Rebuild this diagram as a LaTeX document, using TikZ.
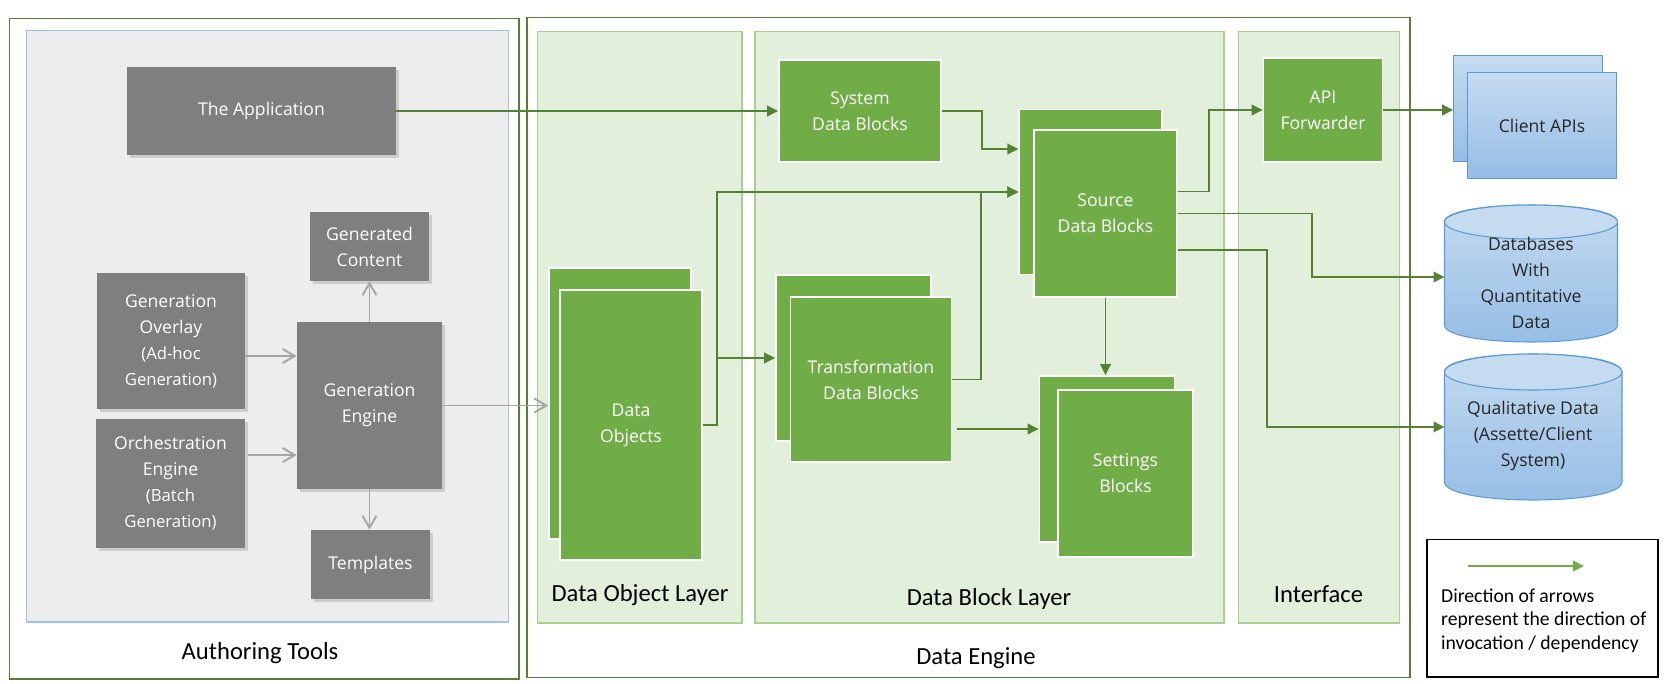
\documentclass[tikz,border=0pt]{standalone}
\usepackage{fontspec}
\setmainfont{Carlito}
\newfontfamily\boxfont{Open Sans}
\usepackage{xcolor}
\usetikzlibrary{arrows.meta,positioning,shapes.geometric,shadows,calc}

\definecolor{leaf}{HTML}{70AD47}
\definecolor{darkleaf}{HTML}{548235}
\definecolor{panelfill}{HTML}{E2EFDA}
\definecolor{panelline}{HTML}{A9D18E}
\definecolor{slate}{HTML}{7F7F7F}
\definecolor{ashbg}{HTML}{EDEDED}
\definecolor{ashline}{HTML}{9DC3E6}
\definecolor{skyline}{HTML}{5B9BD5}
\definecolor{skylight}{HTML}{C5DBF0}
\definecolor{skymid}{HTML}{95BDE5}
\definecolor{arrowgrey}{HTML}{A6A6A6}

\begin{document}
\begin{tikzpicture}[
    x=1cm, y=1cm,
    greybox/.style={fill=slate, text=white, align=center, inner sep=2pt,
      font=\boxfont\fontsize{10}{14.8}\selectfont,
      drop shadow={shadow xshift=0.05cm, shadow yshift=-0.05cm, opacity=0.3}},
    greenbox/.style={fill=leaf, draw=white, line width=0.9pt, text=white, align=center,
      inner sep=2pt, font=\boxfont\fontsize{10}{14.8}\selectfont},
    skybox/.style={top color=skylight, bottom color=skymid, draw=skyline, line width=0.6pt,
      text=black!85, align=center, font=\boxfont\fontsize{10}{14.8}\selectfont},
    cylbody/.style={top color=skylight, bottom color=skymid, draw=skyline, line width=0.6pt},
    cyltop/.style={ellipse, fill=skylight, draw=skyline, line width=0.6pt, inner sep=0pt},
    cyltext/.style={text=black!85, align=center, font=\boxfont\fontsize{10}{14.8}\selectfont},
    panel/.style={fill=panelfill, draw=panelline, line width=0.7pt},
    frame/.style={draw=darkleaf, line width=1.1pt},
    layerlabel/.style={font=\fontsize{14}{16}\selectfont, text=black},
    flow/.style={draw=darkleaf, line width=1.1pt, -{Triangle[length=2.2mm, width=2.1mm]}},
    greyflow/.style={draw=arrowgrey, line width=1.1pt, -{Straight Barb[length=2.4mm, width=2.8mm]}},
    keyflow/.style={draw=leaf, line width=1.1pt, -{Triangle[length=2.2mm, width=2.1mm]}},
  ]
    \useasboundingbox (0,0) rectangle (33.3,-13.68);

    % frames and layers
    \draw[frame] (0.19,-0.37) rectangle (10.38,-13.58);
    \draw[fill=ashbg, draw=ashline, line width=0.8pt] (0.53,-0.61) rectangle (10.17,-12.44);
    \draw[frame] (10.54,-0.35) rectangle (28.2,-13.55);
    \draw[panel] (10.75,-0.63) rectangle (14.84,-12.46);
    \draw[panel] (15.1,-0.63) rectangle (24.48,-12.46);
    \draw[panel] (24.77,-0.63) rectangle (27.99,-12.46);

    \node[layerlabel] (authlabel) at (5.2,-13.07) {Authoring Tools};
    \node[layerlabel] (enginelabel) at (19.52,-13.16) {Data Engine};
    \node[layerlabel] (dolabel) at (12.8,-11.91) {Data Object Layer};
    \node[layerlabel] (dblabel) at (19.78,-11.98) {Data Block Layer};
    \node[layerlabel] (iflabel) at (26.37,-11.88) {Interface};

    % authoring tools
    \node[greybox, minimum width=5.38cm, minimum height=1.76cm] (app) at (5.23,-2.22) {The Application};
    \node[greybox, minimum width=2.38cm, minimum height=1.38cm] (gencontent) at (7.39,-4.93) {Generated\\Content};
    \node[greybox, minimum width=2.96cm, minimum height=2.72cm] (overlay) at (3.42,-6.82)
      {Generation\\Overlay\\{\fontsize{9.5}{14.8}\selectfont(Ad-hoc}\\{\fontsize{9.5}{14.8}\selectfont Generation)}};
    \node[greybox, minimum width=2.98cm, minimum height=2.58cm] (orch) at (3.41,-9.67)
      {Orchestration\\Engine\\{\fontsize{9.5}{14.8}\selectfont(Batch}\\{\fontsize{9.5}{14.8}\selectfont Generation)}};
    \node[greybox, minimum width=2.9cm, minimum height=3.34cm] (engine) at (7.39,-8.11) {Generation\\Engine};
    \node[greybox, minimum width=2.38cm, minimum height=1.38cm] (templates) at (7.41,-11.29) {Templates};

    % data engine
    \node[greenbox, minimum width=2.84cm, minimum height=5.42cm] (dobjback) at (12.4,-8.07) {};
    \node[greenbox, minimum width=2.84cm, minimum height=5.41cm] (dobj) at (12.62,-8.5) {Data\\Objects};
    \node[greenbox, minimum width=3.24cm, minimum height=2.04cm] (sysdb) at (17.2,-2.22) {System\\Data Blocks};
    \node[greenbox, minimum width=3.1cm, minimum height=3.32cm] (transformback) at (17.07,-7.16) {};
    \node[greenbox, minimum width=3.22cm, minimum height=3.3cm] (transform) at (17.42,-7.59) {Transformation\\Data Blocks};
    \node[greenbox, minimum width=2.85cm, minimum height=3.3cm] (sourceback) at (21.81,-3.84) {};
    \node[greenbox, minimum width=2.86cm, minimum height=3.33cm] (source) at (22.11,-4.27) {Source\\Data Blocks};
    \node[greenbox, minimum width=2.7cm, minimum height=3.32cm] (settingsback) at (22.14,-9.18) {};
    \node[greenbox, minimum width=2.7cm, minimum height=3.34cm] (settings) at (22.51,-9.47) {Settings\\Blocks};
    \node[greenbox, minimum width=2.38cm, minimum height=2.09cm] (api) at (26.46,-2.2) {API\\Forwarder};

    % outside systems
    \node[skybox, minimum width=2.97cm, minimum height=2.11cm] (clientback) at (30.56,-2.17) {};
    \node[skybox, minimum width=2.98cm, minimum height=2.11cm] (client) at (30.84,-2.51) {Client APIs};

    \path[cylbody] (28.89,-4.44) -- (28.89,-6.5) .. controls (28.89,-6.953) and (32.35,-6.953) .. (32.35,-6.5)
      -- (32.35,-4.44) .. controls (32.35,-3.987) and (28.89,-3.987) .. (28.89,-4.44) -- cycle;
    \node[cyltop, minimum width=3.46cm, minimum height=0.68cm] (dbtop) at (30.62,-4.44) {};
    \node[cyltext] (db) at (30.62,-5.66) {Databases\\With\\Quantitative\\Data};

    \path[cylbody] (28.89,-7.44) -- (28.89,-9.64) .. controls (28.89,-10.12) and (32.44,-10.12) .. (32.44,-9.64)
      -- (32.44,-7.44) .. controls (32.44,-6.96) and (28.89,-6.96) .. (28.89,-7.44) -- cycle;
    \node[cyltop, minimum width=3.55cm, minimum height=0.72cm] (qualtop) at (30.665,-7.44) {};
    \node[cyltext] (qual) at (30.66,-8.72) {Qualitative Data\\(Assette/Client\\System)};

    \coordinate (dbin) at (28.89,-5.54);
    \coordinate (qualin) at (28.89,-8.54);

    % grey connectors
    \draw[greyflow] ([yshift=-0.3cm]overlay.east) -- ([yshift=-0.3cm]overlay.east -| engine.west);
    \draw[greyflow] ([xshift=0.06cm,yshift=0.57cm]orch.east) -- ([yshift=0.57cm]orch.east -| engine.west);
    \draw[greyflow] (engine.north) -- (gencontent.south);
    \draw[greyflow] (engine.south) -- (engine.south |- templates.north);
    \draw[greyflow] (engine.east) -- (engine.east -| dobjback.west);

    % green connectors
    \draw[flow] (app.east) -- (sysdb.west);
    \draw[flow] (sysdb.east) -- ++(0.81,0) |- ([yshift=0.86cm]sourceback.west);
    \draw[flow] (dobj.east) -- ++(0.28,0) |- (sourceback.west);
    \draw[flow] (dobj.east) -- ++(0.28,0) |- (transformback.west);
    \draw[flow] (transform.east) -- ++(0.57,0) |- (sourceback.west);
    \draw[flow] ([xshift=0.09cm,yshift=-0.99cm]transform.east) -- ([yshift=0.6cm]settingsback.west);
    \draw[flow] (source.south) -- (source.south |- settingsback.north);
    \draw[flow] ([yshift=0.44cm]source.east) -- ++(0.62,0) |- (api.west);
    \draw[flow] (api.east) -- (api.east -| clientback.west);
    \draw[flow] (source.east) -- ++(2.69,0) |- (dbin);
    \draw[flow] ([yshift=-0.73cm]source.east) -- ++(1.78,0) |- (qualin);

    % key
    \draw[black, line width=1pt] (28.54,-10.79) rectangle (33.16,-13.54);
    \coordinate (keystart) at (29.36,-11.32);
    \coordinate (keyend) at (31.68,-11.32);
    \draw[keyflow] (keystart) -- (keyend);
    \node[anchor=west, align=left, font=\fontsize{11.2}{13.4}\selectfont] (keytext) at (28.7,-12.41)
      {Direction of arrows\\represent the direction of\\invocation / dependency};
\end{tikzpicture}
\end{document}
